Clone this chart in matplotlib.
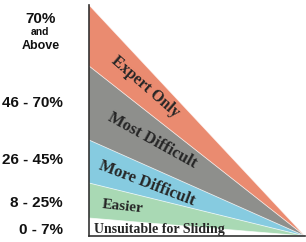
import matplotlib
matplotlib.use('Agg')
import matplotlib.pyplot as plt

# Band boundaries on the left edge (height above the base, apex height = 231)
band_names = ['Unsuitable for Sliding', 'Easier', 'More Difficult', 'Most Difficult', 'Expert Only']
band_tops = [18, 53, 96, 170, 231]
band_colors = ['#ffffff', '#a9d9b4', '#86cbe0', '#8e8f8c', '#ea8b70']

# Slope ranges shown on the left
range_labels = ['0 - 7%', '8 - 25%', '26 - 45%', '46 - 70%']
range_y = [6, 33, 76, 133]

# Label placement inside the triangle (x along the base, y height, rotation)
name_x = [0.325, 0.155, 0.27, 0.295, 0.26]
name_y = [6, 29, 53, 95, 149]
name_rot = [0, -6, -21, -29, -41]
name_size = [10, 11, 12, 12, 11.5]

fig = plt.figure(figsize=(3.06, 2.42), dpi=100)
ax = fig.add_axes([89 / 306, 6 / 242, 216 / 306, 231 / 242])
ax.set_xlim(0, 1)
ax.set_ylim(0, 231)
ax.axis('off')

lower = 0
for top, color in zip(band_tops, band_colors):
    ax.fill([0, 0, 1], [lower, top, 0], color=color, lw=0)
    # thin light edge between bands
    ax.plot([0, 1], [top, 0], color='white', lw=0.6, alpha=0.7)
    lower = top

# left edge and base
ax.plot([0, 0], [0, band_tops[-1]], color='#333333', lw=1.2, clip_on=False)
ax.plot([0, 1], [0, 0], color='#333333', lw=1.2, clip_on=False)

for name, x, y, rot, size in zip(band_names, name_x, name_y, name_rot, name_size):
    ax.text(x, y, name, rotation=rot, ha='center', va='center',
            family='Liberation Serif', fontweight='bold', fontsize=size,
            color='#262626', rotation_mode='anchor')

for lab, y in zip(range_labels, range_y):
    ax.text(-0.12, y, lab, ha='right', va='center', family='Liberation Sans',
            fontweight='bold', fontsize=11, color='#111111', clip_on=False)

# top range label stacked on three lines
ax.text(-0.225, 217, '70%', ha='center', va='center', family='Liberation Sans',
        fontweight='bold', fontsize=11, color='#111111')
ax.text(-0.225, 204, 'and', ha='center', va='center', family='Liberation Sans',
        fontweight='bold', fontsize=7.5, color='#111111')
ax.text(-0.225, 190, 'Above', ha='center', va='center', family='Liberation Sans',
        fontweight='bold', fontsize=9, color='#111111')

fig.savefig('out.png', dpi=100)
